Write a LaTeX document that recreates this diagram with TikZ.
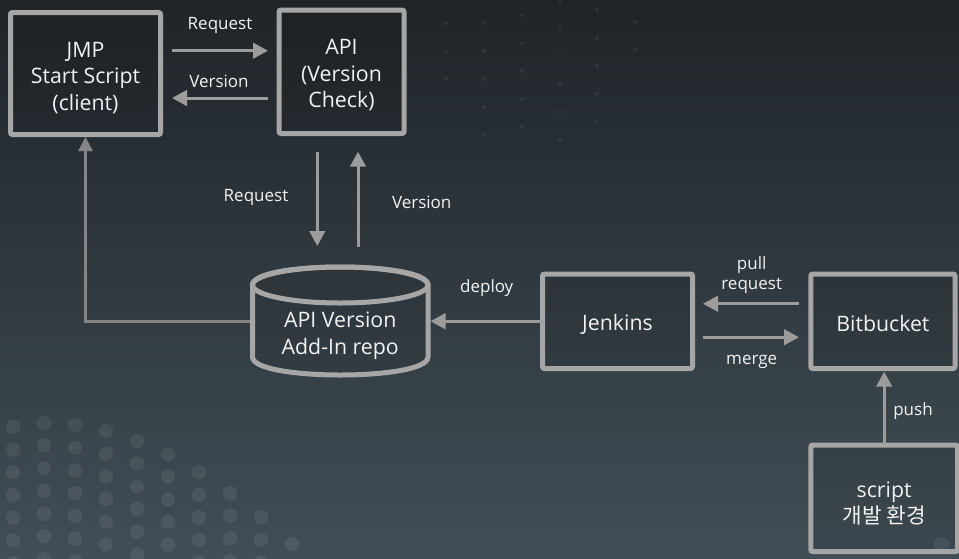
\documentclass[tikz,border=0pt]{standalone}
\usepackage{fontspec}
\setmainfont{Open Sans}
\newfontfamily\krfont{Noto Sans CJK KR}
\usetikzlibrary{arrows.meta,calc}
\definecolor{bgtop}{HTML}{1F2428}
\definecolor{bgmid}{HTML}{343F46}
\definecolor{bgbot}{HTML}{414E56}
\definecolor{edge}{HTML}{A6A6A6}
\definecolor{arrowc}{HTML}{9C9C9C}
\definecolor{linkc}{HTML}{858585}
\definecolor{txt}{HTML}{F2F2F2}
\newcommand{\liftby}[1]{\rule{0pt}{#1}}
\tikzset{
  box/.style={draw=edge, line width=5pt, rounded corners=2pt, fill=black, fill opacity=0.08, text opacity=1,
    outer sep=0pt, inner sep=0pt, align=center, text=txt, font=\fontsize{21.3}{26.5}\selectfont},
  lbl/.style={text=txt, font=\fontsize{17}{20}\selectfont, align=center, inner sep=0pt},
  arr/.style={draw=arrowc, line width=3pt, -{Triangle[length=15pt,width=15.5pt]}},
  link/.style={draw=linkc, line width=2.5pt, -{Triangle[length=14pt,width=14pt]}, color=linkc},
  dot/.style={fill=white, fill opacity=0.07, draw=none},
  tinydot/.style={fill=white, fill opacity=0.06, draw=none}
}
\begin{document}
\begin{tikzpicture}[x=1pt,y=-1pt]
% background
\shade[top color=bgtop, middle color=bgmid, bottom color=bgbot] (0,0) rectangle (959,558);
\useasboundingbox (0,0) rectangle (959,558);
% decorative dots bottom-left
\foreach \i/\t in {0/427,1/423,2/425,3/431,4/441,5/454,6/472,7/493,8/517,9/544}{
  \foreach \k in {0,...,7}{
    \pgfmathsetmacro{\yy}{\t+22.7*\k}
    \pgfmathparse{\yy<566 ? 1 : 0}
    \ifnum\pgfmathresult=1
      \fill[dot] (13+31*\i,\yy) circle (7.2);
    \fi
  }
}
\fill[dot] (941.7,545) circle (8);
% faint dots top-middle
\foreach \x/\ys in {446/{23.7,51.7,79},484/{23,51,79,107,135},522/{15.7,43.3,71,99,127},560/{1,29,56,84,112,140},597/{10,38,66,93.7,121},635/{21.7,49.7}}{
  \foreach \y in \ys { \fill[tinydot] (\x,\y) circle (2); }
}
% nodes
\node[box, minimum width=150pt, minimum height=122pt] (jmp) at (85.5,73.5) {\liftby{24pt}JMP\\Start Script\\(client)};
\node[box, minimum width=125pt, minimum height=123.5pt] (api) at (341.5,71.75) {\liftby{22pt}API\\(Version\\Check)};
\node[box, minimum width=150pt, minimum height=94.5pt] (jenkins) at (617.5,321.25) {\liftby{22pt}Jenkins};
\node[box, minimum width=144.2pt, minimum height=94.5pt] (bit) at (882.9,321.25) {\liftby{20pt}Bitbucket};
\node[box, minimum width=146.7pt, minimum height=106.5pt] (script) at (884.15,498.25) {\liftby{26pt}script\\{\krfont 개발 환경}};
\node[minimum width=175.5pt, minimum height=108pt, inner sep=0pt, outer sep=0pt] (repo) at (340.25,321) {};
% left link and deploy (under cylinder)
\draw[link, shorten >=2.5pt] ([yshift=-0.7pt]repo.west) -| (jmp.south);
\draw[arr, shorten >=2.5pt] (jenkins.west) -- (jenkins.west -| repo.east);
% cylinder
\path[draw=edge, line width=5pt, fill=black, fill opacity=0.06]
  (252.5,285) -- (252.5,357) .. controls (252.5,381) and (428,381) .. (428,357) -- (428,285)
  .. controls (428,261) and (252.5,261) .. (252.5,285) -- cycle;
\draw[edge, line width=5pt] (340.25,285) ellipse [x radius=87.75, y radius=18];
\node[lbl, font=\fontsize{21.3}{26.5}\selectfont] (repotext) at (340.25,335.5) {API Version\\Add-In repo};
% top arrows
\draw[arr, shorten <=11.5pt, shorten >=11pt] ([yshift=22.8pt]jmp.east) -- ([yshift=22.8pt]jmp.east -| api.west);
\draw[arr, shorten <=11pt, shorten >=11.5pt] ([yshift=-24.5pt]jmp.east -| api.west) -- ([yshift=-24.5pt]jmp.east);
\node[lbl] (l1) at (220,25) {Request};
\node[lbl] (l2) at (219,81) {Version};
% vertical arrows
\draw[arr, shorten <=18.2pt, shorten >=21pt] ([xshift=-24.2pt]api.south) -- ([xshift=-24.2pt]api.south |- repo.north);
\draw[arr, shorten <=20.3pt, shorten >=18.2pt] ([xshift=16.5pt]api.south |- repo.north) -- ([xshift=16.5pt]api.south);
\node[lbl] (l3) at (256,197) {Request};
\node[lbl] (l4) at (421.7,202) {Version};
\node[lbl] (l5) at (486.7,288) {deploy};
% jenkins <-> bitbucket
\draw[arr, shorten <=11.8pt, shorten >=10.5pt] ([yshift=17.5pt]bit.west) -- ([yshift=17.5pt]bit.west -| jenkins.east);
\draw[arr, shorten <=10.5pt, shorten >=11.8pt] ([yshift=-16pt]bit.west -| jenkins.east) -- ([yshift=-16pt]bit.west);
\node[lbl] (l6) at (751.7,275) {pull\\request};
\node[lbl] (l7) at (751.7,362) {merge};
% push
\draw[arr, shorten >=3.2pt] (script.north) -- (script.north |- bit.south);
\node[lbl] (l8) at (913,411) {push};
\end{tikzpicture}
\end{document}
